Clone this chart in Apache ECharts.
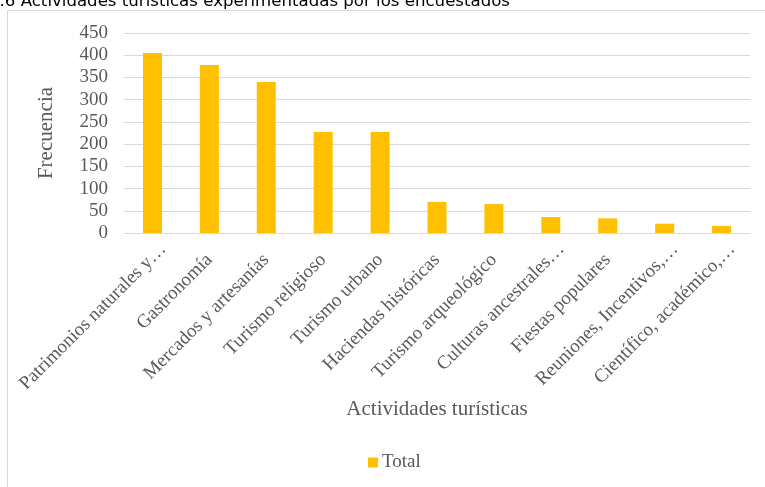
<!DOCTYPE html>
<html>
<head>
<meta charset="utf-8">
<script src="https://cdn.jsdelivr.net/npm/echarts@6/dist/echarts.min.js"></script>
<style>
  html, body { margin: 0; padding: 0; background: #fff; }
  #chart { width: 765px; height: 487px; }
</style>
</head>
<body>
<div id="chart"></div>
<script>
// categorias (las largas vienen recortadas con "…" como en el original)
const categories = [
  'Patrimonios naturales y…',
  'Gastronomía',
  'Mercados y artesanías',
  'Turismo religioso',
  'Turismo urbano',
  'Haciendas históricas',
  'Turismo arqueológico',
  'Culturas ancestrales…',
  'Fiestas populares',
  'Reuniones, Incentivos,…',
  'Científico, académico,…'
];
const totals = [405, 378, 340, 227, 227, 70, 65, 36, 33, 21, 16];
const yTicks = [0, 50, 100, 150, 200, 250, 300, 350, 400, 450];

const gray = '#595959';
const serif = '"Liberation Serif", "Times New Roman", serif';

const chart = echarts.init(document.getElementById('chart'));

// etiquetas recortadas quedan un poco desplazadas en el original
const xData = categories.map(c => {
  if (c.endsWith('…')) {
    return { value: c, textStyle: { padding: [0, -15, 0, 0] } };
  }
  return c;
});

chart.setOption({
  animation: false,
  grid: { left: 124, right: 15, top: 33, bottom: 254 },
  graphic: [
    {
      type: 'rect',
      shape: { x: 7.5, y: 10.5, width: 800, height: 600 },
      style: { fill: 'none', stroke: '#d9d9d9', lineWidth: 1 }
    },
    {
      type: 'text',
      x: 510, y: 10,
      style: {
        text: 'Gráfico 4.6 Actividades turísticas experimentadas por los encuestados',
        align: 'right', verticalAlign: 'bottom',
        font: '16.6px "DejaVu Sans", sans-serif',
        fill: '#000'
      }
    }
  ],
  legend: {
    data: ['Total'],
    left: 363, top: 448,
    itemWidth: 10, itemHeight: 10,
    icon: 'rect',
    itemGap: 4,
    textStyle: { fontFamily: serif, fontSize: 19, color: gray, padding: [0, 0, 0, -1] }
  },
  xAxis: {
    type: 'category',
    data: xData,
    name: 'Actividades turísticas',
    nameLocation: 'middle',
    nameGap: 166,
    nameTextStyle: { fontFamily: serif, fontSize: 21, color: gray },
    axisLine: { lineStyle: { color: '#d9d9d9', width: 1 } },
    axisTick: { show: false },
    axisLabel: {
      interval: 0, rotate: 45, margin: 24,
      fontFamily: serif, fontSize: 19, color: gray
    }
  },
  yAxis: {
    type: 'value',
    min: 0, max: 450, interval: 50,
    name: 'Frecuencia',
    nameLocation: 'middle',
    nameGap: 67,
    nameTextStyle: { fontFamily: serif, fontSize: 21, color: gray },
    axisLine: { show: false },
    axisTick: { show: false },
    splitLine: { lineStyle: { color: '#d9d9d9', width: 1 } },
    axisLabel: {
      margin: 16,
      fontFamily: serif, fontSize: 19, color: gray,
      formatter: v => yTicks.includes(v) ? String(v) : ''
    }
  },
  series: [{
    name: 'Total',
    type: 'bar',
    data: totals,
    barWidth: 19,
    itemStyle: { color: '#FFC000' }
  }]
});
</script>
</body>
</html>
